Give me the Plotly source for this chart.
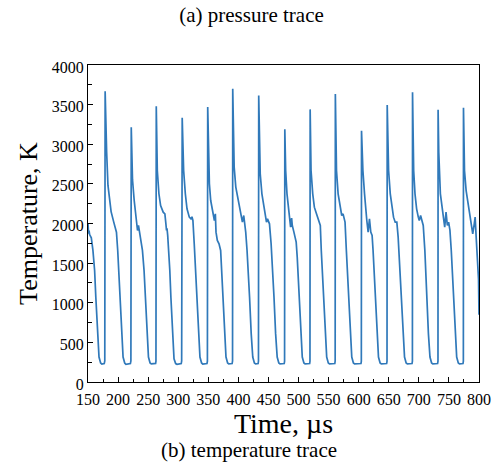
import plotly.graph_objects as go

# Time (µs) and temperature (K), cycle by cycle
t_c0 = [150.0, 151.0, 151.8, 152.7, 153.5, 155.5, 158.2, 159.9, 161.0, 163.0, 165.7, 168.3, 171.0, 173.0, 177.0, 177.9]
T_c0 = [2000, 1870, 1910, 1860, 1850, 1820, 1660, 1490, 1407, 1070, 610, 315, 240, 226, 232, 265]

t_c1 = [178.5, 179.7, 181.0, 183.2, 186.0, 188.4, 192.8, 195.5, 196.6, 197.3, 199.4, 201.0, 203.0, 205.7, 208.3, 211.0, 213.0, 220.5, 221.3]
T_c1 = [3670, 3150, 2900, 2480, 2300, 2150, 2017, 1935, 1920, 1890, 1660, 1407, 1070, 610, 315, 240, 224, 232, 265]

t_c2 = [221.9, 222.8, 224.0, 226.8, 229.5, 232.3, 233.9, 235.6, 237.8, 240.5, 243.2, 245.2, 247.9, 250.5, 253.2, 255.2, 262.4, 263.0]
T_c2 = [3215, 2900, 2550, 2290, 2080, 1912, 1975, 1891, 1786, 1660, 1407, 1070, 610, 315, 240, 228, 235, 262]

t_c3 = [263.5, 264.4, 265.2, 267.9, 270.7, 275.0, 277.8, 279.5, 280.5, 281.3, 282.5, 285.0, 286.0, 287.8, 290.5, 293.0, 295.7, 298.0, 305.0, 305.7]
T_c3 = [3480, 3050, 2669, 2375, 2227, 2143, 2122, 1996, 1912, 1940, 1850, 1575, 1407, 1070, 608, 293, 233, 224, 232, 265]

t_c4 = [306.6, 307.5, 309.0, 311.8, 314.6, 318.4, 321.1, 322.8, 324.4, 326.6, 328.8, 330.8, 333.5, 336.1, 338.8, 340.8, 347.8, 348.5]
T_c4 = [3335, 2950, 2669, 2375, 2185, 2080, 2059, 2085, 2038, 1744, 1407, 1070, 610, 315, 240, 227, 233, 262]

t_c5 = [349.0, 350.0, 351.8, 354.0, 357.3, 360.1, 361.7, 362.8, 365.0, 367.8, 370.5, 372.1, 374.1, 376.8, 379.4, 382.1, 384.0, 389.6, 390.3]
T_c5 = [3470, 3000, 2501, 2290, 2143, 2038, 2122, 1891, 1786, 1744, 1660, 1407, 1070, 610, 315, 240, 228, 233, 265]

t_c6 = [390.6, 391.6, 393.0, 395.7, 399.6, 402.3, 405.0, 406.7, 408.9, 410.5, 412.2, 414.4, 416.6, 418.6, 421.3, 423.9, 426.6, 428.6, 432.8, 433.4]
T_c6 = [3700, 3150, 2711, 2459, 2290, 2185, 2080, 2017, 2101, 2017, 1891, 1660, 1407, 1070, 610, 315, 240, 228, 233, 265]

t_c7 = [433.8, 434.8, 436.3, 439.1, 442.4, 445.1, 446.7, 448.4, 450.0, 451.7, 454.4, 456.1, 457.2, 459.2, 461.9, 464.5, 467.2, 469.2, 476.2, 476.8]
T_c7 = [3615, 3100, 2627, 2374, 2206, 2080, 2017, 2059, 2017, 1996, 1744, 1533, 1407, 1070, 610, 315, 240, 228, 233, 262]

t_c8 = [477.2, 478.6, 480.8, 483.5, 485.2, 486.8, 488.5, 489.6, 492.3, 494.5, 496.1, 497.8, 498.9, 500.9, 503.6, 506.2, 508.9, 510.9, 518.5, 519.0]
T_c8 = [3190, 2669, 2374, 2185, 2080, 1954, 2067, 1975, 1891, 1807, 1765, 1575, 1407, 1070, 610, 315, 240, 228, 233, 262]

t_c9 = [519.3, 520.1, 520.8, 523.6, 526.3, 529.0, 531.8, 534.5, 536.2, 537.8, 539.5, 541.5, 544.2, 546.8, 549.5, 551.5, 560.3, 560.9]
T_c9 = [3440, 3000, 2669, 2374, 2206, 2143, 2080, 2017, 1975, 1660, 1407, 1070, 610, 315, 240, 228, 233, 265]

t_c10 = [561.2, 562.2, 563.1, 565.8, 568.5, 570.2, 571.8, 574.0, 575.7, 577.3, 579.5, 581.2, 583.2, 585.9, 588.5, 591.2, 593.2, 603.8, 604.4]
T_c10 = [3635, 3100, 2669, 2374, 2248, 2143, 2101, 2122, 2080, 2017, 1660, 1407, 1070, 610, 315, 240, 228, 233, 262]

t_c11 = [604.7, 605.8, 607.0, 609.7, 611.3, 613.5, 615.7, 617.9, 620.1, 622.3, 623.9, 625.6, 627.6, 630.3, 632.9, 635.6, 637.6, 646.5, 647.1]
T_c11 = [3170, 2800, 2669, 2374, 2164, 2038, 1891, 2059, 1891, 1849, 1660, 1407, 1070, 610, 315, 240, 228, 233, 262]

t_c12 = [647.4, 648.4, 649.7, 652.5, 655.2, 657.9, 660.7, 663.4, 665.6, 667.3, 668.9, 670.9, 673.6, 676.2, 678.9, 680.9, 688.7, 689.3]
T_c12 = [3495, 3000, 2669, 2374, 2206, 2080, 2017, 2017, 1828, 1575, 1407, 1070, 610, 315, 240, 228, 233, 262]

t_c13 = [689.5, 690.4, 691.4, 693.6, 696.3, 699.1, 700.7, 702.9, 704.6, 707.3, 710.0, 711.2, 713.2, 715.9, 718.5, 721.2, 723.2, 731.2, 731.8]
T_c13 = [3655, 3100, 2669, 2374, 2185, 2080, 2038, 2101, 2038, 1975, 1660, 1407, 1070, 610, 315, 240, 228, 233, 262]

t_c14 = [732.0, 733.1, 735.8, 738.6, 741.3, 743.0, 745.2, 747.4, 749.5, 751.7, 753.9, 755.6, 757.6, 760.3, 762.9, 765.6, 767.6, 773.4, 774.0]
T_c14 = [3435, 2900, 2374, 2206, 2038, 1954, 2143, 1975, 2017, 1912, 1660, 1407, 1070, 610, 315, 240, 228, 233, 262]

t_c15 = [774.2, 775.2, 775.9, 778.6, 781.4, 784.1, 786.8, 789.6, 792.0, 793.6, 795.5, 797.5, 799.2, 800.0]
T_c15 = [3460, 2950, 2669, 2416, 2290, 2164, 1996, 1870, 1990, 2080, 1800, 1550, 1300, 850]

time_us = (t_c0 + t_c1 + t_c2 + t_c3 + t_c4 + t_c5 + t_c6 + t_c7 + t_c8
           + t_c9 + t_c10 + t_c11 + t_c12 + t_c13 + t_c14 + t_c15)
temp_K = (T_c0 + T_c1 + T_c2 + T_c3 + T_c4 + T_c5 + T_c6 + T_c7 + T_c8
          + T_c9 + T_c10 + T_c11 + T_c12 + T_c13 + T_c14 + T_c15)

x_ticks = list(range(150, 801, 50))
y_ticks = list(range(0, 4001, 500))

SERIF = "Liberation Serif"

fig = go.Figure()
fig.add_trace(go.Scatter(
    x=time_us, y=temp_K, mode="lines",
    line=dict(color="#3079ba", width=1.7),
    showlegend=False, hoverinfo="skip",
))

axis_common = dict(
    showgrid=False, zeroline=False, showline=True, linecolor="black",
    linewidth=1.2, mirror=True, ticks="inside", ticklen=5, tickwidth=1,
    tickcolor="black", tickfont=dict(family=SERIF, size=16, color="black"),
)

fig.update_xaxes(
    range=[150, 800], tickvals=x_ticks, ticklabelstandoff=3,
    minor=dict(ticks="inside", ticklen=3, dtick=25, tick0=150, tickcolor="black"),
    title=dict(text="Time, µs", font=dict(family=SERIF, size=28, color="black"), standoff=1),
    **axis_common,
)
fig.update_yaxes(
    range=[0, 4000], tickvals=y_ticks, ticklabelshift=2,
    minor=dict(ticks="inside", ticklen=4, dtick=250, tick0=0, tickcolor="black"),
    title=dict(text="Temperature, K", font=dict(family=SERIF, size=26, color="black"), standoff=6),
    **axis_common,
)

fig.update_layout(
    width=503, height=463,
    margin=dict(l=88, r=19, t=65, b=81),
    paper_bgcolor="white", plot_bgcolor="white",
    title=dict(text="(a) pressure trace", x=0.5, xref="container", xanchor="center",
               y=1 - 15 / 463, yref="container", yanchor="middle",
               font=dict(family=SERIF, size=21, color="black")),
    annotations=[dict(text="(b) temperature trace", xref="paper", yref="paper",
                      x=(251.5 - 88) / 396, y=(382 - 450) / 317,
                      xanchor="center", yanchor="middle", showarrow=False,
                      font=dict(family=SERIF, size=21, color="black"))],
)

fig.write_html("out.html")
